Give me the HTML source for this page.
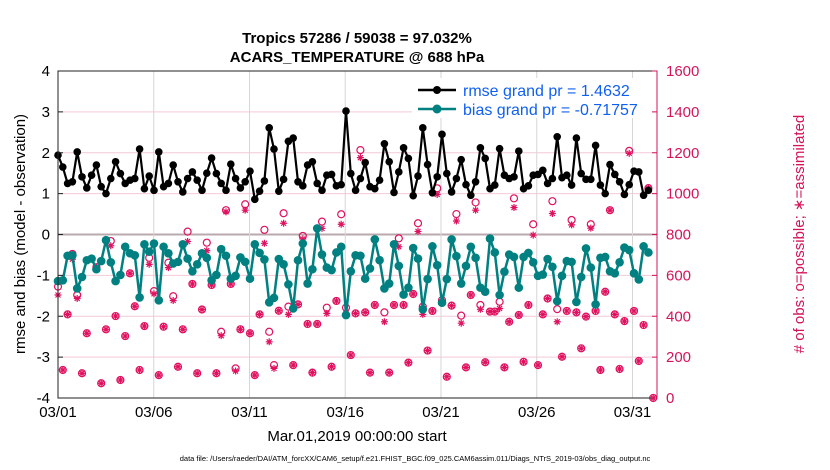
<!DOCTYPE html>
<html><head><meta charset="utf-8">
<style>
html,body{margin:0;padding:0;background:#fff;}
svg{display:block;font-family:"Liberation Sans",Arial,sans-serif;}
</style></head>
<body>
<svg id="chart" width="830" height="470" viewBox="0 0 830 470">
  <rect x="0" y="0" width="830" height="470" fill="#fff"/>
  <text x="357" y="43" text-anchor="middle" font-size="15" font-weight="bold">Tropics 57286 / 59038 = 97.032%</text>
  <text x="357" y="62" text-anchor="middle" font-size="15" font-weight="bold">ACARS_TEMPERATURE @ 688 hPa</text>
  <g id="grid"></g>
  <g id="marks"></g>
  <rect x="58" y="71" width="599" height="327" fill="none" stroke="#222" stroke-width="1"/>
  <line x1="657" y1="71" x2="657" y2="398" stroke="#d4145a" stroke-width="1"/>
  <g id="axes"></g>
  <text transform="translate(25,234) rotate(-90)" text-anchor="middle" font-size="15">rmse and bias (model - observation)</text>
  <text transform="translate(804,234) rotate(-90)" text-anchor="middle" font-size="15" fill="#d4145a"># of obs: o=possible; ∗=assimilated</text>
  <text x="357" y="441" text-anchor="middle" font-size="15">Mar.01,2019 00:00:00 start</text>
  <text x="415" y="461" text-anchor="middle" font-size="7.5">data file: /Users/raeder/DAI/ATM_forcXX/CAM6_setup/f.e21.FHIST_BGC.f09_025.CAM6assim.011/Diags_NTrS_2019-03/obs_diag_output.nc</text>
  <g>
    <rect x="412" y="78" width="240" height="40" fill="#fff"/>
    <line x1="418" y1="90" x2="456" y2="90" stroke="#000" stroke-width="2.5"/>
    <circle cx="437" cy="90" r="4" fill="#000"/>
    <text x="463" y="96" font-size="16" fill="#1060f0">rmse grand pr = 1.4632</text>
    <line x1="418" y1="109" x2="456" y2="109" stroke="#008080" stroke-width="2.5"/>
    <circle cx="437" cy="109" r="4.5" fill="#008080"/>
    <text x="463" y="115" font-size="16" fill="#1060f0">bias grand pr = -0.71757</text>
  </g>
</svg>
<script>
const xTickLabels = ["03/01","03/06","03/11","03/16","03/21","03/26","03/31"];
const xTickDays = [0,5,10,15,20,25,30];
const leftTicks = [-4,-3,-2,-1,0,1,2,3,4];
const rightTicks = [0,200,400,600,800,1000,1200,1400,1600];
const rmse = [1.94,1.65,1.25,1.29,2.02,1.41,1.14,1.45,1.70,1.17,1.0,1.37,1.78,1.49,1.25,1.33,1.37,2.09,1.12,1.43,1.08,2.02,1.17,1.25,1.70,1.29,1.04,1.37,1.53,1.33,1.08,1.5,
1.87,1.49,1.25,1.08,1.72,1.37,1.14,1.29,1.55,0.86,1.06,1.31,2.61,2.09,1.06,1.35,2.28,2.36,1.29,1.19,1.70,1.78,1.25,1.08,1.45,1.47,1.19,1.22,3.02,1.49,1.08,
1.37,1.76,1.17,1.12,1.33,2.22,1.78,1.03,1.53,2.12,1.86,0.95,1.43,2.61,1.71,1.02,1.41,2.45,1.49,1.04,1.37,1.83,1.22,0.96,1.29,2.12,1.86,1.12,1.21,2.10,1.45,
1.37,1.41,2.04,1.12,1.19,1.45,1.47,1.57,1.25,1.37,2.39,1.39,1.45,1.21,2.36,1.49,1.35,1.35,2.18,1.21,1.00,1.71,1.47,1.29,0.98,1.22,1.55,1.53,0.96,1.08];
const bias = [-1.14,-1.12,-0.52,-0.51,-1.32,-1.04,-0.63,-0.59,-0.85,-0.65,-0.14,-0.68,-1.14,-0.99,-0.30,-0.46,-0.51,-1.54,-0.24,-0.42,-0.22,-1.61,-0.30,-0.46,-0.71,-0.67,-0.24,-0.59,-0.90,-0.73,
-0.46,-0.57,-1.12,-0.99,-0.36,-0.52,-1.08,-1.01,-0.56,-0.67,-1.08,-0.24,-0.45,-0.61,-1.66,-1.55,-0.60,-0.73,-1.22,-1.81,-0.63,-0.22,-1.20,-0.85,0.15,-0.49,-0.81,-0.87,-0.44,-0.30,-1.97,-0.90,-0.51,
-0.52,-1.08,-0.83,-0.12,-0.63,-1.32,-1.20,-0.24,-0.77,-1.47,-1.30,-0.33,-0.59,-1.83,-1.09,-0.29,-0.75,-1.67,-1.09,-0.12,-0.53,-1.20,-0.77,-0.30,-0.57,-1.30,-1.40,-0.10,-0.44,-1.48,-0.91,
-0.49,-0.55,-1.30,-0.55,-0.45,-0.68,-1.01,-0.98,-0.60,-0.79,-1.63,-1.01,-0.65,-0.67,-1.65,-1.04,-0.34,-0.81,-1.71,-0.57,-0.55,-0.90,-0.95,-0.68,-0.32,-0.38,-0.95,-1.10,-0.29,-0.44];
const obsPossible = [545,137,409,705,504,121,317,null,640,72,336,768,401,88,303,610,449,137,352,686,523,112,349,662,498,153,336,814,558,121,
433,760,553,121,324,919,558,145,336,948,317,112,409,823,324,161,427,904,447,161,458,793,362,124,362,863,442,153,475,899,442,210,414,
1213,419,124,455,null,419,124,455,781,455,173,509,855,447,232,426,1026,479,104,452,900,403,150,504,957,455,175,423,423,471,150,
373,977,406,177,455,850,161,409,487,963,435,202,426,871,419,243,398,850,426,137,520,919,409,142,376,1209,426,181,357,1027,0];
const obsAssim = [504,137,409,679,487,121,317,null,640,72,336,745,401,88,303,610,449,137,352,654,510,112,349,638,477,153,336,766,558,121,
433,721,553,121,305,911,558,132,336,919,317,112,409,757,275,145,427,855,409,161,458,778,362,124,362,830,414,153,475,850,414,210,414,
1176,419,124,455,null,373,124,455,740,455,173,509,815,409,232,426,996,471,104,452,866,366,150,504,919,434,175,423,423,438,150,
373,932,406,177,455,797,161,409,487,903,373,202,426,847,419,243,398,831,426,137,520,919,409,142,376,1197,426,181,357,1027,0];

const NS = "http://www.w3.org/2000/svg";
const X0 = 58, X1 = 657, YT = 71, YB = 398;
const pxPerDay = 19.15;
const xDay = d => X0 + d * pxPerDay;
const xIdx = i => X0 + i * 4.8;
const yL = v => YB - (v + 4) / 8 * (YB - YT);
const yR = v => YB - v / 1600 * (YB - YT);
function mk(tag, attrs, parent) {
  const e = document.createElementNS(NS, tag);
  for (const k in attrs) e.setAttribute(k, attrs[k]);
  parent.appendChild(e);
  return e;
}
const grid = document.getElementById("grid");
const axes = document.getElementById("axes");
const marks = document.getElementById("marks");

leftTicks.forEach(t => {
  const y = yL(t);
  if (t !== -4 && t !== 4) {
    const g = mk("line", {x1: X0, x2: X1, y1: y, y2: y, stroke: t === 0 ? "#b9a9ad" : "#f4c9d8", "stroke-width": t === 0 ? 2 : 1}, grid);
    
    
  }
  const tk = mk("line", {x1: X0, x2: X0 + 5, y1: y, y2: y, stroke: "#222"}, axes);
  
  
  const lb = mk("text", {x: 50, y: y + 5, "text-anchor": "end", "font-size": 15}, axes);
  lb.textContent = t;
  
  
});
rightTicks.forEach(t => {
  const y = yR(t);
  const tk = mk("line", {x1: X1 - 5, x2: X1, y1: y, y2: y, stroke: "#d4145a"}, axes);
  
  
  const lb = mk("text", {x: 666, y: y + 5, "font-size": 15, fill: "#d4145a"}, axes);
  lb.textContent = t;
  
  
});
xTickDays.forEach((d, k) => {
  const x = xDay(d);
  if (d > 0) {
    const g = mk("line", {x1: x, x2: x, y1: YT, y2: YB, stroke: "#d6d6d6"}, grid);
    
    
  }
  const lb = mk("text", {x: x, y: 417, "text-anchor": "middle", "font-size": 15}, axes);
  lb.textContent = xTickLabels[k];
  
  
});

// obs markers
const pink = "#e0115f";
obsPossible.forEach((v, i) => {
  if (v === null) return;
  const c = mk("circle", {cx: xIdx(i), cy: yR(v), r: 3.5, fill: "none", stroke: pink, "stroke-width": 1.2}, marks);
  
  
});
obsAssim.forEach((v, i) => {
  if (v === null) return;
  const x = xIdx(i), y = yR(v), s = 3.5;
  const d = `M${x - s},${y}H${x + s}M${x},${y - s}V${y + s}M${x - 2.5},${y - 2.5}L${x + 2.5},${y + 2.5}M${x - 2.5},${y + 2.5}L${x + 2.5},${y - 2.5}`;
  const p = mk("path", {d: d, stroke: pink, "stroke-width": 1.2, fill: "none"}, marks);
  
  
});

function series(vals, color, w, r, name) {
  const pts = vals.map((v, i) => xIdx(i) + "," + yL(v)).join(" ");
  const pl = mk("polyline", {points: pts, fill: "none", stroke: color, "stroke-width": w, "stroke-linejoin": "round"}, marks);
  
  
  vals.forEach((v, i) => {
    const c = mk("circle", {cx: xIdx(i), cy: yL(v), r: r, fill: color}, marks);
    
    
  });
}
series(bias, "#008080", 2.5, 4.3, "bias");
series(rmse, "#000", 2.2, 3.8, "rmse");
</script>
</body></html>
